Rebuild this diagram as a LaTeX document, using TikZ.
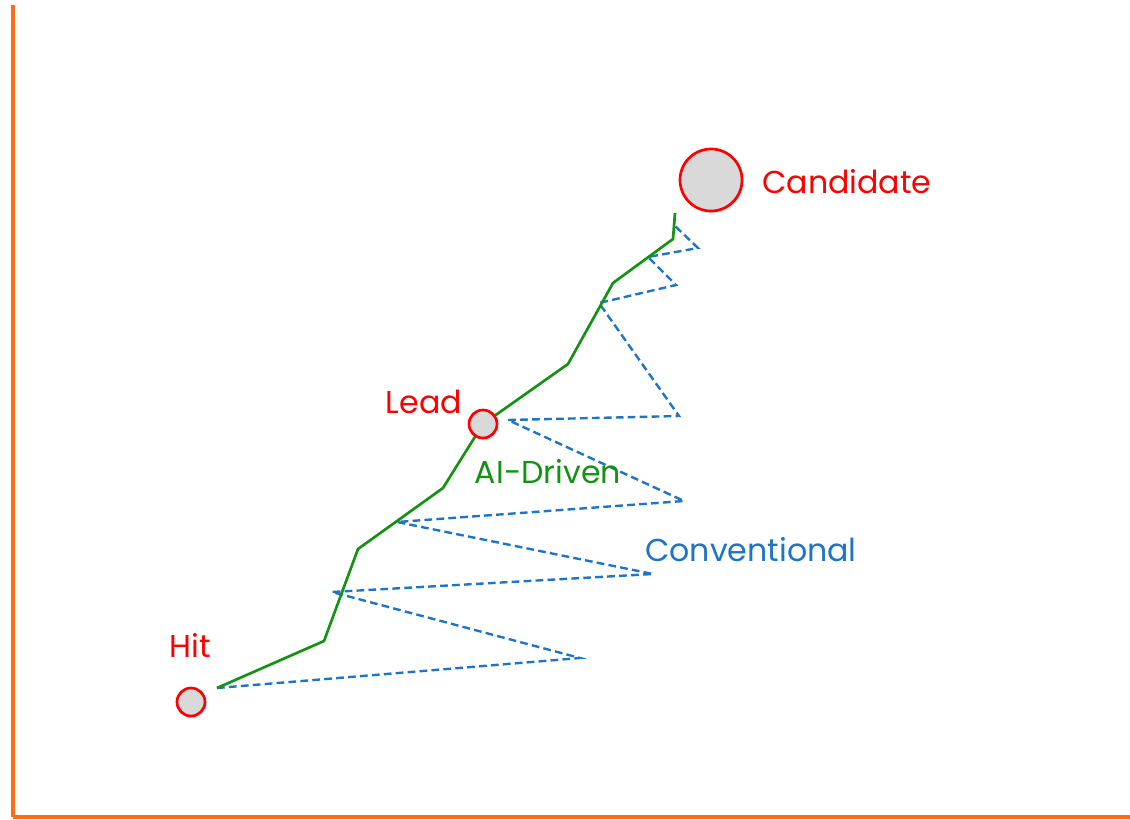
\documentclass[tikz,border=0pt]{standalone}
\usepackage{fontspec}
\setmainfont{Poppins}
\usepackage{tikz}
\usetikzlibrary{shadows}
\usepackage{xcolor}
\definecolor{axisorange}{HTML}{FF6C14}
\definecolor{stagered}{HTML}{FF0000}
\definecolor{stagegray}{HTML}{D9D9D9}
\definecolor{aigreen}{HTML}{149214}
\definecolor{convblue}{HTML}{1E74C6}

\begin{document}
\begin{tikzpicture}[
    x=0.025cm, y=-0.025cm,
    stage/.style={circle, draw=stagered, line width=1.9pt, fill=stagegray,
                  drop shadow={shadow xshift=1pt, shadow yshift=-1.5pt, opacity=0.25}},
    stagelabel/.style={text=stagered, font=\fontsize{22.5}{24}\selectfont, inner sep=0pt},
    routelabel/.style={font=\fontsize{22.5}{24}\selectfont, inner sep=0pt},
    airoute/.style={draw=aigreen, line width=1.9pt, line join=miter},
    convroute/.style={draw=convblue, line width=1.7pt, dash pattern=on 5.5pt off 3pt}
]
\useasboundingbox (0,0) rectangle (1130,820);

% ---- Axes ----
\coordinate (top) at (13,5);
\coordinate (origin) at (13,817);
\coordinate (right) at (1130,817);
\draw[axisorange, line width=2.8pt] (top) -- (origin);
\draw[axisorange, line width=2.2pt] (origin) -- (right);

% ---- Route ends ----
\coordinate (start) at (217,688);
\coordinate (leadpos) at (483,424);
\coordinate (goal) at (675,213);
\coordinate (convend) at (675,226);

% ---- Conventional route (zig-zag) ----
\draw[convroute] (start) -- (580,658) -- (332,592) -- (653,574) -- (397,522)
    -- (684,501) -- (508,420) -- (679,416) -- (599,303) -- (676,285)
    -- (648,257) -- (698,248) -- (convend);

% ---- AI-driven route ----
\draw[airoute] (start) -- (324,641) -- (358,549) -- (443,488) -- (leadpos)
    -- (568,364) -- (613,283) -- (673,239) -- (goal);

% ---- Stages ----
\node[stage, minimum size=0.7cm] (hit) at (191,702) {};
\node[stage, minimum size=0.7cm] (lead) at (leadpos) {};
\node[stage, minimum size=1.55cm] (cand) at (711,180) {};

\node[stagelabel] (hitlabel) at (190,645) {Hit};
\node[stagelabel] (leadlabel) at (424,402) {Lead};
\node[stagelabel, anchor=west] (candlabel) at (762,182) {Candidate};

% ---- Route labels ----
\node[routelabel, text=aigreen] (ailabel) at (548,472) {AI-Driven};
\node[routelabel, text=convblue] (convlabel) at (751,550) {Conventional};

\end{tikzpicture}
\end{document}
